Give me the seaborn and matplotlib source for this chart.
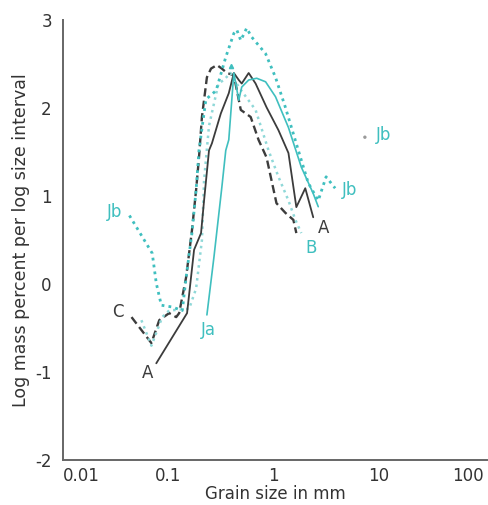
import numpy as np
import pandas as pd
import matplotlib
matplotlib.use('Agg')
import matplotlib.pyplot as plt
import seaborn as sns

# Grain size (mm) and log mass percent per log size interval
a_size = [0.077, 0.151, 0.176, 0.205, 0.219, 0.244, 0.26, 0.316, 0.376, 0.42, 0.468,
          0.499, 0.581, 0.676, 0.859, 1.114, 1.387, 1.648, 2.004, 2.384]
a_val = [-0.90, -0.33, 0.39, 0.58, 0.95, 1.52, 1.60, 1.94, 2.17, 2.40, 2.32,
         2.28, 2.40, 2.28, 2.01, 1.75, 1.49, 0.875, 1.09, 0.76]

c_size = [0.0448, 0.0692, 0.0822, 0.102, 0.119, 0.127, 0.148, 0.168, 0.184, 0.196,
          0.209, 0.233, 0.255, 0.29, 0.323, 0.361, 0.42, 0.489, 0.607, 0.721,
          0.859, 1.067, 1.297, 1.545, 1.648]
c_val = [-0.375, -0.67, -0.41, -0.33, -0.375, -0.33, 0.08, 0.61, 1.07, 1.44,
         1.90, 2.35, 2.45, 2.49, 2.45, 2.40, 2.375, 1.98, 1.90, 1.64,
         1.44, 0.92, 0.81, 0.73, 0.58]

b_size = [0.0556, 0.0692, 0.0877, 0.102, 0.158, 0.184, 0.209, 0.219, 0.244, 0.30,
          0.337, 0.39, 0.468, 0.676, 0.897, 1.114, 1.387, 1.614, 1.837]
b_val = [-0.41, -0.70, -0.375, -0.30, -0.28, -0.05, 0.50, 1.18, 1.80, 2.28,
         2.32, 2.40, 2.24, 1.98, 1.52, 1.22, 0.95, 0.73, 0.58]

ja_size = [0.233, 0.272, 0.323, 0.352, 0.376, 0.42, 0.468, 0.499, 0.581, 0.692,
           0.841, 1.045, 1.387, 1.837, 2.384, 2.661]
ja_val = [-0.35, 0.31, 1.10, 1.52, 1.64, 2.40, 2.09, 2.24, 2.32, 2.34,
          2.30, 2.13, 1.78, 1.33, 1.03, 0.88]

jb_size = [0.0428, 0.0705, 0.077, 0.086, 0.109, 0.136, 0.148, 0.168, 0.184,
           0.196, 0.228, 0.285, 0.352, 0.42, 0.448, 0.489, 0.556, 0.619, 0.841,
           1.045, 1.297, 1.722, 2.138, 2.661, 3.16, 3.85]
jb_val = [0.78, 0.35, 0.01, -0.24, -0.26, -0.30, 0.08, 0.58, 1.07,
          1.52, 2.10, 2.20, 2.58, 2.85, 2.89, 2.77, 2.91, 2.81, 2.62,
          2.35, 2.01, 1.52, 1.15, 0.95, 1.22, 1.09]

jb_point_size = [7.38]
jb_point_val = [1.67]

dark = '#3c3c3c'
cyan = '#3fbfbf'

sns.set_style('white')
plt.rcParams['font.family'] = ['DejaVu Sans']

fig = plt.figure(figsize=(4.88, 5.05), dpi=100)
ax = fig.add_axes([0.129, 0.089, 0.869, 0.871])
ax.set_xscale('log')

def draw(size, val, color, ls, lw):
    df = pd.DataFrame({'size': size, 'val': val})
    sns.lineplot(data=df, x='size', y='val', ax=ax, color=color, linestyle=ls,
                 linewidth=lw, sort=False, estimator=None)

draw(c_size, c_val, dark, (0, (3.5, 1.8)), 1.7)
draw(b_size, b_val, '#8fd8d8', (0, (1, 1.6)), 1.8)
draw(jb_size, jb_val, cyan, (0, (1, 1.5)), 2.0)
draw(a_size, a_val, dark, '-', 1.3)
draw(ja_size, ja_val, cyan, '-', 1.2)
sns.scatterplot(x=jb_point_size, y=jb_point_val, ax=ax, color='#9a9a9a', s=6,
                edgecolor='none')
ax.plot([0.393], [2.48], marker='^', color=cyan, markersize=3, linestyle='none')

# curve labels
lab = dict(fontsize=12)
ax.text(0.0635, -1.01, 'A', color=dark, ha='center', va='center', **lab)
ax.text(2.96, 0.64, 'A', color=dark, ha='center', va='center', **lab)
ax.text(0.033, -0.32, 'C', color=dark, ha='center', va='center', **lab)
ax.text(0.0309, 0.82, 'Jb', color=cyan, ha='center', va='center', **lab)
ax.text(0.243, -0.52, 'Ja', color=cyan, ha='center', va='center', **lab)
ax.text(2.28, 0.41, 'B', color=cyan, ha='center', va='center', **lab)
ax.text(5.33, 1.07, 'Jb', color=cyan, ha='center', va='center', **lab)
ax.text(11.1, 1.69, 'Jb', color=cyan, ha='center', va='center', **lab)

ax.set_xlim(0.01, 100 * 10 ** (3 / 106))
ax.set_ylim(-2, 3)
ax.set_xticks([0.01, 0.1, 1, 10, 100])
ax.set_xticklabels(['0.01', '0.1', '1', '10', '100'])
ax.xaxis.set_minor_locator(matplotlib.ticker.NullLocator())
ax.set_yticks([-2, -1, 0, 1, 2, 3])
ax.set_yticklabels(['-2', '-1', '0', '1', '2', '3'])
xl = ax.get_xticklabels()
xl[0].set_ha('left')
xl[-1].set_ha('right')

ax.tick_params(axis='both', direction='in', length=4, width=1, color='#666666',
               labelsize=12, labelcolor='#333333')
ax.tick_params(axis='y', pad=8)
ax.tick_params(axis='x', pad=5)

sns.despine(ax=ax)
for s in ['left', 'bottom']:
    ax.spines[s].set_color('#666666')
    ax.spines[s].set_linewidth(1.4)

ax.set_xlabel('Grain size in mm', fontsize=12, color='#333333', labelpad=0)
ax.set_ylabel('Log mass percent per log size interval', fontsize=12.5,
              color='#333333', labelpad=4)

fig.savefig('out.png', dpi=100, facecolor='white')
